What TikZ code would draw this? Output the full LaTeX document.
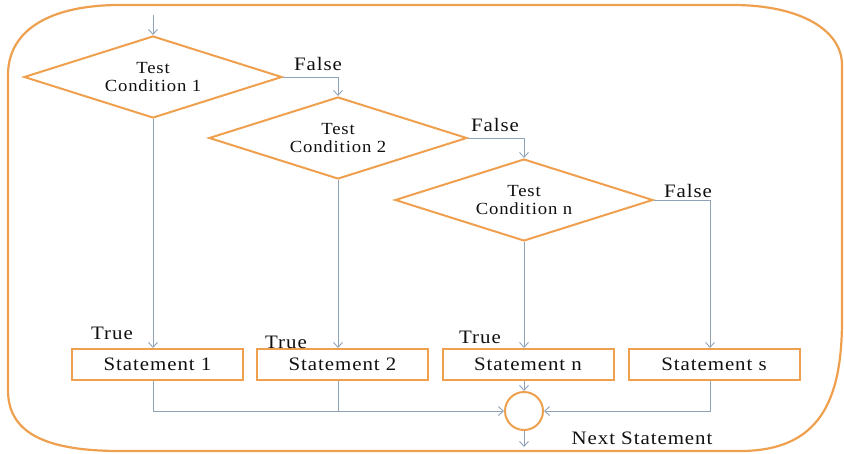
\documentclass[tikz,border=0pt]{standalone}
\usepackage{fontspec}
\setmainfont[FakeStretch=1.1,LetterSpace=5]{Liberation Serif}
\usetikzlibrary{shapes.geometric,arrows.meta,calc}
\definecolor{frameor}{HTML}{EFA04E}
\definecolor{conn}{HTML}{8FA3B8}
\definecolor{txt}{HTML}{101010}
\tikzset{
  decision/.style={diamond, draw=frameor, line width=2pt, aspect=3.15,
    minimum width=258pt, minimum height=82pt, inner sep=0pt, align=center,
    text=txt, font=\fontsize{17}{17.5}\selectfont},
  stmt/.style={rectangle, draw=frameor, line width=2pt, minimum width=171pt,
    minimum height=31pt, inner sep=0pt, text=txt, font=\fontsize{19}{20}\selectfont},
  joinc/.style={circle, draw=frameor, line width=2pt, minimum size=38pt, inner sep=0pt},
  lbl/.style={text=txt, font=\fontsize{19}{20}\selectfont, inner sep=0pt},
  cn/.style={draw=conn, line width=0.9pt},
  arr/.style={cn, -{Straight Barb[length=5pt,width=9pt,line width=0.9pt]}},
}
\begin{document}
\begin{tikzpicture}[x=1pt,y=-1pt]
\useasboundingbox (0,0) rectangle (844,453);
% outer frame
\draw[frameor, line width=2.2pt]
  (8,75) -- (8,390) .. controls (8,430) and (40,451) .. (120,451)
  -- (740,451) .. controls (820,451) and (842,400) .. (842,320)
  -- (842,65) .. controls (842,30) and (800,5) .. (733,5)
  -- (120,5) .. controls (50,5) and (8,30) .. (8,75) -- cycle;
% nodes
\node[decision] (d1) at (153,77) {Test\\Condition 1};
\node[decision] (d2) at (338,138) {Test\\Condition 2};
\node[decision] (d3) at (524,200) {Test\\Condition n};
\node[stmt] (s1) at (157.5,364.5) {Statement 1};
\node[stmt] (s2) at (342.5,364.5) {Statement 2};
\node[stmt] (sn) at (528,364.5) {Statement n};
\node[stmt] (ss) at (714,364.5) {Statement s};
\node[joinc] (m) at (524,411) {};
\coordinate (start) at (153,15);
\coordinate (c3) at (710,200);
\coordinate (endp) at (524,447);
% labels
\node[lbl] (f1) at (318,64) {False};
\node[lbl] (f2) at (495,125) {False};
\node[lbl] (f3) at (688,191) {False};
\node[lbl] (t1) at (112,333) {True};
\node[lbl] (t2) at (286,342) {True};
\node[lbl] (tn) at (480,337) {True};
\node[lbl] (ns) at (642,438) {Next Statement};
% connectors
\draw[arr] (start) -- (d1.north);
\draw[arr] (d1.east) -- (d1.east -| d2.north) -- (d2.north);
\draw[arr] (d2.east) -- (d2.east -| d3.north) -- (d3.north);
\draw[cn] (d3.east) -- (c3);
\draw[arr] (c3) -- (c3 |- ss.north);
\draw[arr] (d1.south) -- (d1.south |- s1.north);
\draw[arr] (d2.south) -- (d2.south |- s2.north);
\draw[arr] (d3.south) -- (d3.south |- sn.north);
\draw[arr] (d1.south |- s1.south) -- (d1.south |- m.west) -- (m.west);
\draw[cn] (d2.south |- s2.south) -- (d2.south |- m.west);
\draw[arr] (d3.south |- sn.south) -- (m.north);
\draw[arr] (c3 |- ss.south) -- (c3 |- m.east) -- (m.east);
\draw[arr] (m.south) -- (endp);
\end{tikzpicture}
\end{document}
